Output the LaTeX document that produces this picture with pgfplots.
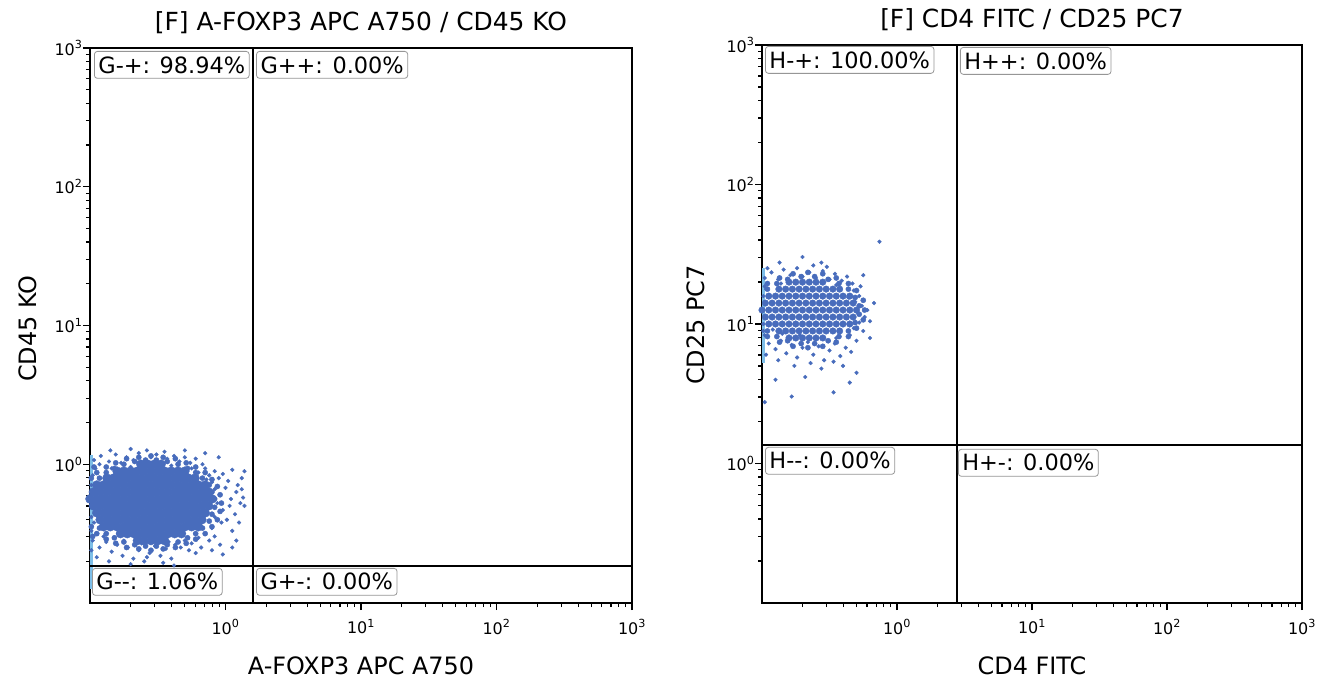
\documentclass[border=0pt]{standalone}
\usepackage{fontspec}
\setmainfont{DejaVu Sans}
\usepackage{pgfplots}
\pgfplotsset{compat=1.18}
\definecolor{dot}{RGB}{72,108,188}
\definecolor{edgeblue}{RGB}{125,190,232}
\definecolor{boxgray}{RGB}{150,150,150}
\newcommand{\tl}[1]{10\textsuperscript{#1}}
\tikzset{
  qlab/.style={draw=boxgray, fill=white, rounded corners=3bp, line width=0.8bp,
    font=\fontsize{22.5}{26}\selectfont, inner xsep=4bp, inner ysep=5bp, anchor=north west},
}
\pgfplotsset{
  fcs/.style={
    scale only axis,
    /pgf/number format/assume math mode=true,
    xmin=-1, xmax=3, ymin=-1, ymax=3,
    axis line style={line width=1.5bp},
    xtick={0,1,2,3}, ytick={0,1,2,3},
    xticklabels={\tl{0},\tl{1},\tl{2},\tl{3}},
    yticklabels={\tl{0},\tl{1},\tl{2},\tl{3}},
    minor xtick={-0.699,-0.523,-0.398,-0.301,-0.222,-0.155,-0.097,-0.046,0.301,0.477,0.602,0.699,0.778,0.845,0.903,0.954,1.301,1.477,1.602,1.699,1.778,1.845,1.903,1.954,2.301,2.477,2.602,2.699,2.778,2.845,2.903,2.954},
    minor ytick={-0.699,-0.523,-0.398,-0.301,-0.222,-0.155,-0.097,-0.046,0.301,0.477,0.602,0.699,0.778,0.845,0.903,0.954,1.301,1.477,1.602,1.699,1.778,1.845,1.903,1.954,2.301,2.477,2.602,2.699,2.778,2.845,2.903,2.954},
    tick align=outside, tick pos=left,
    major tick length=7bp, minor tick length=4bp,
    every tick/.style={black, line width=1.1bp},
    tick label style={font=\fontsize{16}{18}\selectfont},
    xticklabel style={yshift=-6bp},
    yticklabel style={xshift=3bp},
    title style={font=\fontsize{25}{29}\selectfont, at={(0.5,1)}, anchor=base, yshift=12bp},
    xlabel style={font=\fontsize{24}{28}\selectfont, at={(0.5,0)}, anchor=base, yshift=-71bp},
    ylabel style={font=\fontsize{24}{28}\selectfont, anchor=base},
  },
  gate/.style={black, line width=1.3bp},
  core/.style={only marks, mark=*, mark size=4.5bp, color=dot, mark options={draw=none}},
  ring/.style={only marks, mark=*, mark size=2.6bp, color=dot, mark options={draw=none}},
  halo/.style={only marks, mark=*, mark size=1.9bp, color=dot, mark options={draw=none}},
  rcore/.style={only marks, mark=*, mark size=3.3bp, color=dot, mark options={draw=none}},
}
\begin{document}
\begin{tikzpicture}
\path[use as bounding box] (0,0) rectangle (1330bp,691bp);
% ---------------- left plot ----------------
\begin{axis}[fcs, at={(90bp,88bp)}, anchor=south west, width=542bp, height=555bp,
  title={[F] A-FOXP3 APC A750 / CD45 KO},
  xlabel={A-FOXP3 APC A750},
  ylabel={CD45 KO},
  ylabel style={at={(axis description cs:-0.0996,0.494)}}]
% dense core of the population (log10 units)
\addplot[core] coordinates {
(-0.65,-0.55) (-0.60,-0.55) (-0.55,-0.55) (-0.50,-0.55) (-0.45,-0.55)
(-0.775,-0.50) (-0.725,-0.50) (-0.675,-0.50) (-0.625,-0.50) (-0.575,-0.50) (-0.525,-0.50) (-0.475,-0.50) (-0.425,-0.50) (-0.375,-0.50) (-0.325,-0.50)
(-0.90,-0.45) (-0.85,-0.45) (-0.80,-0.45) (-0.75,-0.45) (-0.70,-0.45) (-0.65,-0.45) (-0.60,-0.45) (-0.55,-0.45) (-0.50,-0.45) (-0.45,-0.45) (-0.40,-0.45) (-0.35,-0.45) (-0.30,-0.45) (-0.25,-0.45) (-0.20,-0.45)
(-0.925,-0.40) (-0.875,-0.40) (-0.825,-0.40) (-0.775,-0.40) (-0.725,-0.40) (-0.675,-0.40) (-0.625,-0.40) (-0.575,-0.40) (-0.525,-0.40) (-0.475,-0.40) (-0.425,-0.40) (-0.375,-0.40) (-0.325,-0.40) (-0.275,-0.40) (-0.225,-0.40) (-0.175,-0.40)
(-0.95,-0.35) (-0.90,-0.35) (-0.85,-0.35) (-0.80,-0.35) (-0.75,-0.35) (-0.70,-0.35) (-0.65,-0.35) (-0.60,-0.35) (-0.55,-0.35) (-0.50,-0.35) (-0.45,-0.35) (-0.40,-0.35) (-0.35,-0.35) (-0.30,-0.35) (-0.25,-0.35) (-0.20,-0.35) (-0.15,-0.35)
(-0.975,-0.30) (-0.925,-0.30) (-0.875,-0.30) (-0.825,-0.30) (-0.775,-0.30) (-0.725,-0.30) (-0.675,-0.30) (-0.625,-0.30) (-0.575,-0.30) (-0.525,-0.30) (-0.475,-0.30) (-0.425,-0.30) (-0.375,-0.30) (-0.325,-0.30) (-0.275,-0.30) (-0.225,-0.30) (-0.175,-0.30) (-0.125,-0.30)
(-1.00,-0.25) (-0.95,-0.25) (-0.90,-0.25) (-0.85,-0.25) (-0.80,-0.25) (-0.75,-0.25) (-0.70,-0.25) (-0.65,-0.25) (-0.60,-0.25) (-0.55,-0.25) (-0.50,-0.25) (-0.45,-0.25) (-0.40,-0.25) (-0.35,-0.25) (-0.30,-0.25) (-0.25,-0.25) (-0.20,-0.25) (-0.15,-0.25) (-0.10,-0.25)
(-0.975,-0.20) (-0.925,-0.20) (-0.875,-0.20) (-0.825,-0.20) (-0.775,-0.20) (-0.725,-0.20) (-0.675,-0.20) (-0.625,-0.20) (-0.575,-0.20) (-0.525,-0.20) (-0.475,-0.20) (-0.425,-0.20) (-0.375,-0.20) (-0.325,-0.20) (-0.275,-0.20) (-0.225,-0.20) (-0.175,-0.20) (-0.125,-0.20)
(-0.95,-0.15) (-0.90,-0.15) (-0.85,-0.15) (-0.80,-0.15) (-0.75,-0.15) (-0.70,-0.15) (-0.65,-0.15) (-0.60,-0.15) (-0.55,-0.15) (-0.50,-0.15) (-0.45,-0.15) (-0.40,-0.15) (-0.35,-0.15) (-0.30,-0.15) (-0.25,-0.15) (-0.20,-0.15) (-0.15,-0.15)
(-0.875,-0.10) (-0.825,-0.10) (-0.775,-0.10) (-0.725,-0.10) (-0.675,-0.10) (-0.625,-0.10) (-0.575,-0.10) (-0.525,-0.10) (-0.475,-0.10) (-0.425,-0.10) (-0.375,-0.10) (-0.325,-0.10) (-0.275,-0.10) (-0.225,-0.10)
(-0.80,-0.05) (-0.75,-0.05) (-0.70,-0.05) (-0.65,-0.05) (-0.60,-0.05) (-0.55,-0.05) (-0.50,-0.05) (-0.45,-0.05) (-0.40,-0.05) (-0.35,-0.05) (-0.30,-0.05)
(-0.625,0.00) (-0.575,0.00) (-0.525,0.00) (-0.475,0.00)
};
% fringe of the population
\addplot[ring] coordinates {
(-0.03,-0.28) (-0.04,-0.22) (-0.06,-0.16) (-0.10,-0.11) (-0.15,-0.06) (-0.22,-0.02) (-0.29,0.01) (-0.37,0.04) (-0.46,0.05) (-0.55,0.06) (-0.64,0.05) (-0.73,0.04) (-0.81,0.01) (-0.88,-0.02) (-0.95,-0.06)
(-0.95,-0.50) (-0.88,-0.54) (-0.81,-0.57) (-0.73,-0.60) (-0.64,-0.61) (-0.55,-0.62) (-0.46,-0.61) (-0.37,-0.60) (-0.29,-0.57) (-0.22,-0.54) (-0.15,-0.50) (-0.10,-0.45) (-0.06,-0.40) (-0.04,-0.34)
(-0.08,-0.25) (-0.10,-0.20) (-0.12,-0.15) (-0.17,-0.10) (-0.22,-0.06) (-0.28,-0.03) (-0.35,0.00) (-0.43,0.02) (-0.51,0.03) (-0.59,0.03) (-0.67,0.02) (-0.75,0.00) (-0.82,-0.03) (-0.88,-0.06) (-0.93,-0.10)
(-0.93,-0.46) (-0.88,-0.50) (-0.82,-0.53) (-0.75,-0.56) (-0.67,-0.58) (-0.59,-0.59) (-0.51,-0.59) (-0.43,-0.58) (-0.35,-0.56) (-0.28,-0.53) (-0.22,-0.50) (-0.17,-0.46) (-0.12,-0.41) (-0.10,-0.36) (-0.08,-0.31)
(-0.99,-0.10) (-0.99,-0.45) (-0.98,-0.52) (-0.97,-0.02)
};
% scattered events around the core
\addplot[halo] coordinates {
(-0.97,0.03) (-0.92,0.06) (-0.86,0.02) (-0.81,0.07) (-0.77,0.01) (-0.73,0.05) (-0.68,0.03) (-0.64,0.08) (-0.60,0.02) (-0.55,0.05) (-0.51,0.07) (-0.47,0.01) (-0.43,0.04) (-0.38,0.06) (-0.34,0.02) (-0.30,0.05) (-0.26,0.01) (-0.22,0.04) (-0.17,0.00) (-0.93,0.00) (-0.84,-0.03) (-0.70,-0.02) (-0.40,-0.01) (-0.25,-0.03) (-0.58,0.10) (-0.45,0.09)
(-0.20,-0.06) (-0.15,-0.03) (-0.12,-0.08) (-0.08,-0.05) (-0.05,-0.10) (-0.10,-0.13) (-0.02,-0.07) (0.02,-0.12) (0.05,-0.04) (-0.14,-0.11)
(-0.08,-0.18) (-0.04,-0.22) (0.00,-0.17) (0.04,-0.25) (0.08,-0.20) (-0.06,-0.28) (-0.02,-0.33) (0.03,-0.30) (0.07,-0.36) (-0.08,-0.38) (-0.03,-0.42) (0.01,-0.40) (0.11,-0.28) (0.09,-0.15) (-0.10,-0.46) (0.05,-0.48) (0.12,-0.10)
(-0.15,-0.50) (-0.20,-0.53) (-0.12,-0.55) (-0.08,-0.52) (-0.25,-0.57) (-0.18,-0.60) (-0.30,-0.55) (-0.22,-0.64) (-0.10,-0.62) (-0.27,-0.62) (-0.04,-0.58) (-0.33,-0.60)
(-0.98,-0.55) (-0.93,-0.60) (-0.88,-0.56) (-0.84,-0.63) (-0.80,-0.58) (-0.76,-0.66) (-0.72,-0.60) (-0.68,-0.68) (-0.64,-0.62) (-0.60,-0.70) (-0.56,-0.64) (-0.52,-0.59) (-0.48,-0.66) (-0.44,-0.61) (-0.40,-0.68) (-0.37,-0.58) (-0.95,-0.67) (-0.86,-0.70) (-0.70,-0.72) (-0.58,-0.67) (-0.46,-0.71) (-0.42,-0.56) (-0.75,-0.55) (-0.90,-0.52) (-0.62,-0.57) (-0.53,-0.53) (-0.99,-0.62)
(-0.99,-0.48) (-0.97,-0.42) (-0.99,-0.15) (-0.98,-0.08) (-0.96,-0.03) (-0.99,-0.38) (-0.98,-0.20) (-0.95,-0.50)
(0.12,-0.18) (0.14,-0.30) (0.10,-0.42) (0.08,-0.55) (0.05,-0.60) (0.14,-0.05) (-0.05,0.05) (-0.15,0.08) (-0.30,0.10) (-0.85,0.10) (-0.70,0.11) (-0.02,-0.65) (0.13,-0.24) (-0.38,-0.73)
};
% events piled on the lower edge of the scale
\addplot[edgeblue, line width=6bp] coordinates {(-1,-0.90) (-1,0.07)};
% quadrant gates
\addplot[gate] coordinates {(0.204,-1) (0.204,3)};
\addplot[gate] coordinates {(-1,-0.733) (3,-0.733)};
\node[qlab] at (axis cs:-1,3) [xshift=4bp, yshift=-3bp] {G-+: 98.94\%};
\node[qlab] at (axis cs:0.204,3) [xshift=3bp, yshift=-3bp] {G++: 0.00\%};
\node[qlab] at (axis cs:-1,-0.733) [xshift=2bp, yshift=-2bp] {G-\kern0pt-: 1.06\%};
\node[qlab] at (axis cs:0.204,-0.733) [xshift=3bp, yshift=-2bp] {G+-: 0.00\%};
\end{axis}
% ---------------- right plot ----------------
\begin{axis}[fcs, at={(762bp,88bp)}, anchor=south west, width=540bp, height=558bp,
  title={[F] CD4 FITC / CD25 PC7},
  xlabel={CD4 FITC},
  ylabel={CD25 PC7},
  ylabel style={at={(axis description cs:-0.1056,0.498)}}]
\addplot[rcore] coordinates {
(-0.80,0.90) (-0.75,0.90) (-0.70,0.90) (-0.65,0.90) (-0.60,0.90) (-0.55,0.90)
(-0.875,0.95) (-0.825,0.95) (-0.775,0.95) (-0.725,0.95) (-0.675,0.95) (-0.625,0.95) (-0.575,0.95) (-0.525,0.95) (-0.475,0.95) (-0.425,0.95)
(-0.95,1.00) (-0.90,1.00) (-0.85,1.00) (-0.80,1.00) (-0.75,1.00) (-0.70,1.00) (-0.65,1.00) (-0.60,1.00) (-0.55,1.00) (-0.50,1.00) (-0.45,1.00) (-0.40,1.00) (-0.35,1.00)
(-0.975,1.05) (-0.925,1.05) (-0.875,1.05) (-0.825,1.05) (-0.775,1.05) (-0.725,1.05) (-0.675,1.05) (-0.625,1.05) (-0.575,1.05) (-0.525,1.05) (-0.475,1.05) (-0.425,1.05) (-0.375,1.05) (-0.325,1.05)
(-1.00,1.10) (-0.95,1.10) (-0.90,1.10) (-0.85,1.10) (-0.80,1.10) (-0.75,1.10) (-0.70,1.10) (-0.65,1.10) (-0.60,1.10) (-0.55,1.10) (-0.50,1.10) (-0.45,1.10) (-0.40,1.10) (-0.35,1.10) (-0.30,1.10)
(-0.975,1.15) (-0.925,1.15) (-0.875,1.15) (-0.825,1.15) (-0.775,1.15) (-0.725,1.15) (-0.675,1.15) (-0.625,1.15) (-0.575,1.15) (-0.525,1.15) (-0.475,1.15) (-0.425,1.15) (-0.375,1.15) (-0.325,1.15)
(-0.95,1.20) (-0.90,1.20) (-0.85,1.20) (-0.80,1.20) (-0.75,1.20) (-0.70,1.20) (-0.65,1.20) (-0.60,1.20) (-0.55,1.20) (-0.50,1.20) (-0.45,1.20) (-0.40,1.20) (-0.35,1.20)
(-0.875,1.25) (-0.825,1.25) (-0.775,1.25) (-0.725,1.25) (-0.675,1.25) (-0.625,1.25) (-0.575,1.25) (-0.525,1.25) (-0.475,1.25) (-0.425,1.25)
(-0.80,1.30) (-0.75,1.30) (-0.70,1.30) (-0.65,1.30) (-0.60,1.30) (-0.55,1.30)
};
\addplot[ring] coordinates {
(-0.24,1.10) (-0.25,1.17) (-0.30,1.24) (-0.36,1.29) (-0.45,1.33) (-0.55,1.36) (-0.66,1.37) (-0.77,1.36) (-0.87,1.33) (-0.96,1.29)
(-0.96,0.91) (-0.87,0.87) (-0.77,0.84) (-0.66,0.83) (-0.55,0.84) (-0.45,0.87) (-0.36,0.91) (-0.30,0.97) (-0.25,1.03)
(-0.28,1.13) (-0.31,1.19) (-0.36,1.25) (-0.43,1.29) (-0.51,1.32) (-0.61,1.34) (-0.71,1.34) (-0.81,1.32) (-0.89,1.29) (-0.96,1.25)
(-0.96,0.95) (-0.89,0.91) (-0.81,0.88) (-0.71,0.86) (-0.61,0.86) (-0.51,0.88) (-0.43,0.91) (-0.36,0.95) (-0.31,1.01) (-0.28,1.07)
};
\addplot[halo] coordinates {
(-0.98,1.33) (-0.93,1.37) (-0.88,1.32) (-0.84,1.39) (-0.79,1.35) (-0.74,1.40) (-0.70,1.34) (-0.65,1.37) (-0.60,1.33) (-0.55,1.38) (-0.50,1.32) (-0.46,1.36) (-0.41,1.31) (-0.37,1.34) (-0.96,1.40) (-0.62,1.42) (-0.52,1.41) (-0.33,1.29) (-0.86,1.29) (-0.45,1.28)
(-0.32,1.24) (-0.28,1.20) (-0.31,1.16) (-0.26,1.13) (-0.29,1.08) (-0.24,1.05) (-0.28,1.01) (-0.32,0.97) (-0.25,0.95) (-0.35,0.92) (-0.30,0.88) (-0.22,1.10) (-0.20,1.02) (-0.27,1.27) (-0.36,1.19)
(-0.98,0.92) (-0.95,0.86) (-0.90,0.82) (-0.86,0.88) (-0.82,0.79) (-0.78,0.85) (-0.74,0.76) (-0.70,0.83) (-0.66,0.87) (-0.62,0.78) (-0.58,0.84) (-0.54,0.74) (-0.50,0.81) (-0.46,0.86) (-0.42,0.77) (-0.38,0.83) (-0.34,0.80) (-0.97,0.78) (-0.88,0.74) (-0.76,0.70) (-0.64,0.72) (-0.56,0.68) (-0.47,0.73) (-0.40,0.70) (-0.92,0.96) (-0.45,0.90) (-0.60,0.90) (-0.72,0.92) (-0.85,0.93)
(-0.99,1.00) (-0.99,1.20) (-0.98,1.27) (-0.99,0.95) (-0.97,1.25)
(-0.13,1.59) (-0.17,1.15) (-0.35,0.58) (-0.47,0.51) (-0.78,0.48) (-0.90,0.60) (-0.87,1.44) (-0.56,1.44) (-0.98,0.44) (-0.30,0.65) (-0.68,0.62) (-0.20,0.90) (-0.25,1.35) (-0.70,1.48)
};
\addplot[edgeblue, line width=6bp] coordinates {(-1,0.72) (-1,1.40)};
\addplot[gate] coordinates {(0.444,-1) (0.444,3)};
\addplot[gate] coordinates {(-1,0.133) (3,0.133)};
\node[qlab] at (axis cs:-1,3) [xshift=3bp, yshift=-1bp] {H-+: 100.00\%};
\node[qlab] at (axis cs:0.444,3) [xshift=3bp, yshift=-2bp] {H++: 0.00\%};
\node[qlab] at (axis cs:-1,0.133) [xshift=3bp, yshift=-2bp] {H-\kern0pt-: 0.00\%};
\node[qlab] at (axis cs:0.444,0.133) [xshift=1bp, yshift=-4bp] {H+-: 0.00\%};
\end{axis}
\end{tikzpicture}
\end{document}
